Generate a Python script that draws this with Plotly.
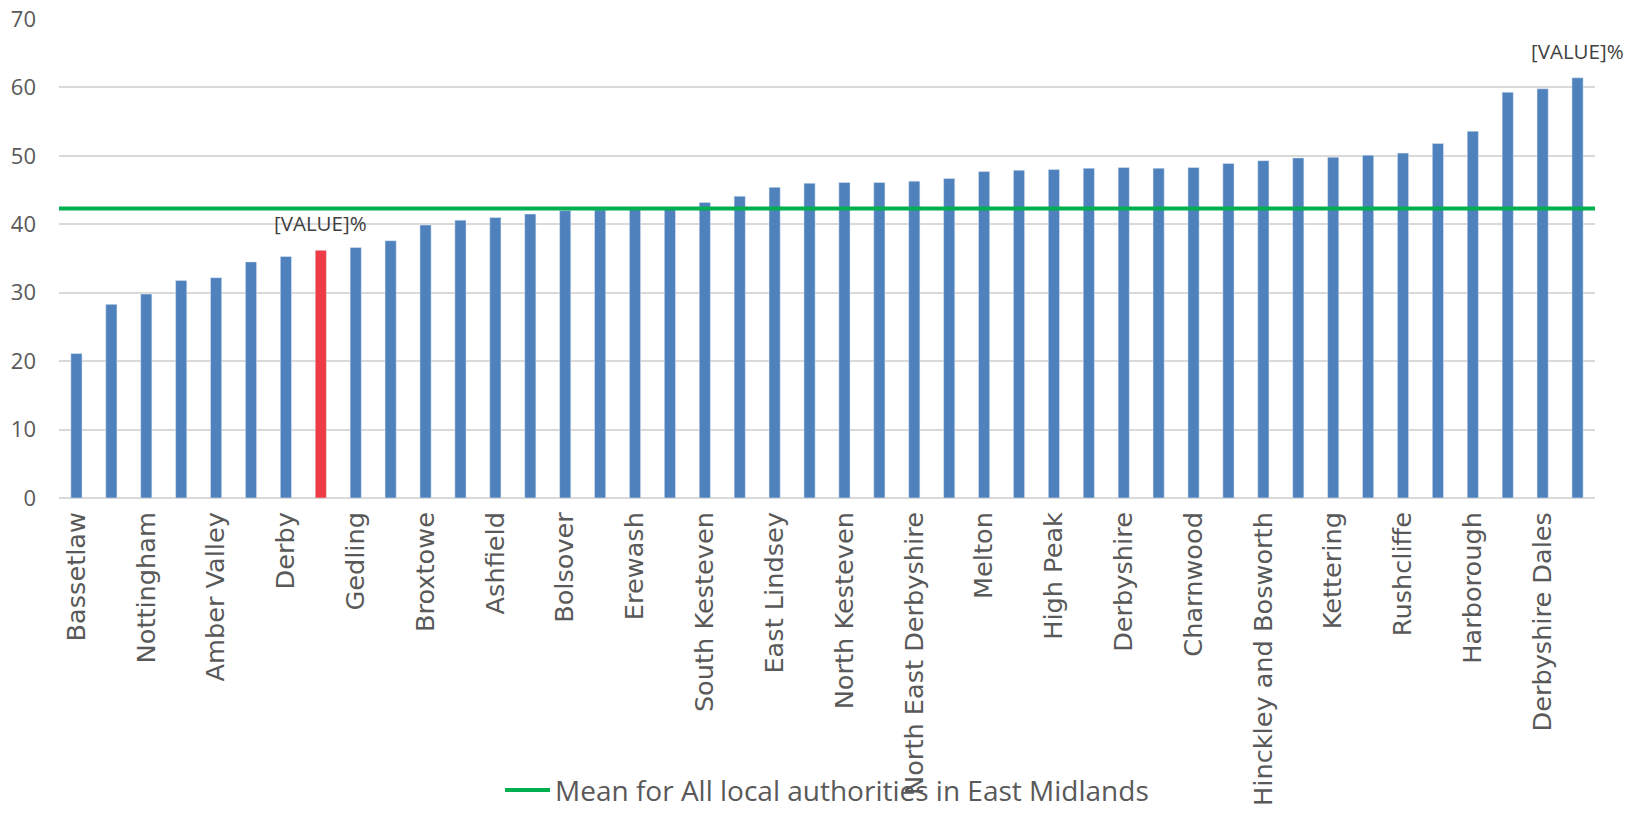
import plotly.graph_objects as go

values = [21.1, 28.3, 29.8, 31.8, 32.2, 34.5, 35.3, 36.2, 36.6, 37.6,
          39.9, 40.6, 41.0, 41.5, 42.0, 42.1, 42.2, 42.4, 43.2, 44.1,
          45.4, 46.0, 46.1, 46.1, 46.3, 46.7, 47.7, 47.9, 48.0, 48.2,
          48.3, 48.2, 48.3, 48.9, 49.3, 49.7, 49.8, 50.1, 50.4, 51.8,
          53.6, 59.3, 59.8, 61.4]
highlight_index = 7
labelled_bars = [7, 43]
label_text = "[VALUE]%"
tick_labels = ["Bassetlaw", "Nottingham", "Amber Valley", "Derby", "Gedling",
               "Broxtowe", "Ashfield", "Bolsover", "Erewash", "South Kesteven",
               "East Lindsey", "North Kesteven", "North East Derbyshire", "Melton",
               "High Peak", "Derbyshire", "Charnwood", "Hinckley and Bosworth",
               "Kettering", "Rushcliffe", "Harborough", "Derbyshire Dales"]
mean_value = 42.3
mean_name = "Mean for All local authorities in East Midlands"

n = len(values)
xs = list(range(n))
colors = ["#EE3B45" if i == highlight_index else "#4F81BD" for i in xs]

fig = go.Figure()
fig.add_trace(go.Bar(x=xs, y=values, marker_color=colors, width=0.32,
                     showlegend=False, hoverinfo="skip"))
fig.add_trace(go.Scatter(x=[-0.5, n - 0.5], y=[mean_value, mean_value],
                         mode="lines", line=dict(color="#00B050", width=4),
                         name=mean_name, showlegend=True))

for i in labelled_bars:
    fig.add_annotation(x=i, y=values[i], text=label_text, showarrow=False,
                       yanchor="bottom", yshift=11,
                       font=dict(family="Open Sans", size=20.5, color="#404040"))

fig.update_layout(
    width=1636, height=813,
    margin=dict(l=59, r=41, t=19, b=315),
    plot_bgcolor="white", paper_bgcolor="white",
    legend=dict(orientation="h", x=0.5, xanchor="center",
                yref="container", y=0.028, yanchor="middle",
                bgcolor="rgba(0,0,0,0)", itemwidth=45,
                font=dict(family="Open Sans", size=28, color="#595959")),
    xaxis=dict(range=[-0.5, n - 0.5], tickmode="array",
               tickvals=xs[::2], ticktext=tick_labels, tickangle=-90,
               tickfont=dict(family="DejaVu Sans", size=25.6, color="#595959"),
               showgrid=False, zeroline=False, showline=False, ticks="",
               ticklabelstandoff=8, automargin=False),
    yaxis=dict(range=[0, 70], dtick=10, showgrid=True, gridcolor="#D9D9D9",
               gridwidth=1.5, zeroline=True, zerolinecolor="#D9D9D9", zerolinewidth=1.5,
               tickfont=dict(family="Open Sans", size=22, color="#595959"),
               ticks="", ticklabelstandoff=22, automargin=False),
)

fig.write_html("out.html", config={"displayModeBar": False},
               post_script="document.body.style.margin='0';")
